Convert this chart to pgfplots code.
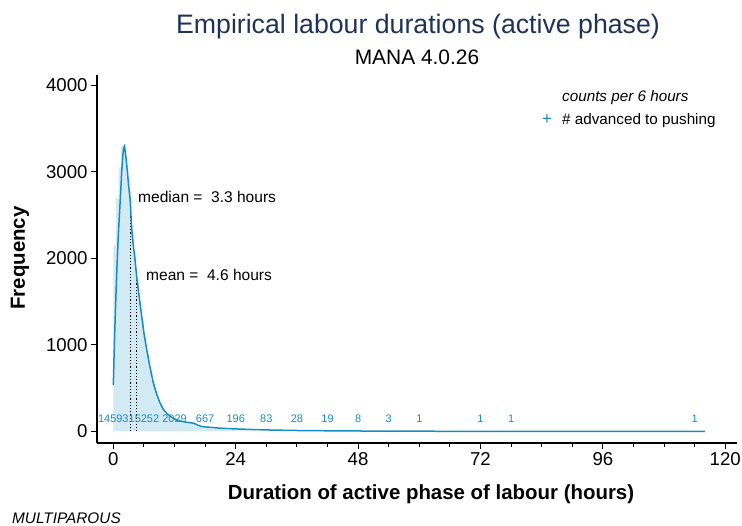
\documentclass[border=0pt]{standalone}
\usepackage{pgfplots}
\pgfplotsset{compat=1.18}
\usepackage{fontspec}
\setmainfont{Liberation Sans}
\definecolor{curveblue}{HTML}{168CC0}
\definecolor{barblue}{HTML}{D2EAF4}
\definecolor{titlenavy}{HTML}{1F3358}
\begin{document}
\begin{tikzpicture}
\useasboundingbox (0bp,0bp) rectangle (742bp,526bp);
\begin{axis}[
  at={(97bp,83bp)}, anchor=south west,
  scale only axis, width=640bp, height=368bp,
  xmin=-3.2, xmax=122.3, ymin=-133, ymax=4117,
  axis x line*=bottom, axis y line*=left,
  axis line style={line width=1.4bp, black},
  xtick={0,24,...,120}, minor xtick={6,12,18,30,36,42,54,60,66,78,84,90,102,108,114},
  ytick={0,1000,2000,3000,4000},
  tick align=outside, major tick length=6bp, minor tick length=4bp,
  every tick/.style={line width=1.1bp, black},
  minor tick style={line width=1.1bp, black},
  ticklabel style={font=\fontsize{18.7}{20}\selectfont},
  /pgf/number format/assume math mode=true,
  /pgf/number format/set thousands separator={},
  scaled y ticks=false,
  clip=false,
]
% histogram bars (0.5 hour bins, plotted at bin centres)
\addplot[ybar, bar width=2.3bp, bar shift=0pt, fill=barblue, draw=none] coordinates {
(0.25,2150) (0.75,2700) (1.25,3050) (1.75,3300) (2.25,3320) (2.75,3080) (3.25,2780)
(3.75,2380) (4.25,2060) (4.75,1760) (5.25,1500) (5.75,1280) (6.25,1080) (6.75,900)
(7.25,740) (7.75,600) (8.25,480) (8.75,380) (9.25,300) (9.75,240) (10.25,200)
(10.75,175) (11.25,155) (11.75,140) (12.25,128) (12.75,118) (13.25,108) (13.75,100)
(14.25,95) (14.75,92) (15.25,90) (15.75,84) (16.25,62) (16.75,56) (17.25,50)
(17.75,45) (18.25,40) (18.75,36) (19.25,32) (19.75,30) (20.25,27) (20.75,25)
(21.25,24) (21.75,22) (22.25,20) (22.75,19) (23.25,17) (23.75,16) (24.25,15)
(24.75,14) (25.25,13) (25.75,12) (26.25,11) (26.75,10) (27.25,9) (27.75,8)
};
% median and mean lines
\addplot[black, dotted, line width=1.2bp] coordinates {(3.3,0) (3.3,2690)};
\addplot[black, dotted, line width=1.2bp] coordinates {(4.6,0) (4.6,1760)};
% density curve
\addplot[curveblue, line width=1.5bp] coordinates {
(0,535) (0.25,1100) (0.5,1550) (0.75,1950) (0.86,2100) (0.98,2270) (1.15,2450)
(1.31,2624) (1.5,2830) (1.65,3005) (1.85,3180) (2.0,3260) (2.16,3289) (2.3,3250)
(2.5,3150) (2.75,3005) (3.0,2840) (3.3,2680) (3.6,2340) (3.9,2160) (4.2,2010)
(4.6,1780) (5.1,1540) (5.57,1328) (6.0,1140) (6.55,944) (7.2,740) (7.85,560)
(8.5,430) (9.16,329) (9.8,255) (10.48,208) (11.4,165) (12.44,133) (13.5,115)
(14.5,105) (15.2,100) (15.8,95) (16.5,75) (17.3,56) (18.2,52) (19.6,45)
(21,38) (23,32) (26.2,25) (30,18) (35,12) (40,9) (45,7) (50,5) (55,4) (60,3)
(70,2) (80,1.5) (90,1) (100,1) (110,0.5) (116,0.5)
};
% counts per 6 hours
\begin{scope}[every node/.style={text=curveblue, font=\fontsize{11}{12}\selectfont, anchor=center, inner sep=0pt}]
\node at (axis cs:0,144) {14593};
\node at (axis cs:6,144) {15252};
\node at (axis cs:12,144) {2029};
\node at (axis cs:18,144) {667};
\node at (axis cs:24,144) {196};
\node at (axis cs:30,144) {83};
\node at (axis cs:36,144) {28};
\node at (axis cs:42,144) {19};
\node at (axis cs:48,144) {8};
\node at (axis cs:54,144) {3};
\node at (axis cs:60,144) {1};
\node at (axis cs:72,144) {1};
\node at (axis cs:78,144) {1};
\node at (axis cs:114,144) {1};
\end{scope}
\end{axis}
% titles
\node[anchor=base, text=titlenavy, font=\fontsize{26.8}{30}\selectfont, inner sep=0pt] at (418bp,492.7bp) {Empirical labour durations (active phase)};
\node[anchor=base, font=\fontsize{21}{24}\selectfont, inner sep=0pt] at (417bp,461bp) {MANA 4.0.26};
% axis labels
\node[anchor=base, font=\bfseries\fontsize{20.5}{24}\selectfont, inner sep=0pt] at (431bp,27bp) {Duration of active phase of labour (hours)};
\node[rotate=90, anchor=center, font=\bfseries\fontsize{20.5}{24}\selectfont, inner sep=0pt] at (20bp,268bp) {Frequency};
\node[anchor=base west, font=\itshape\fontsize{15.4}{18}\selectfont, inner sep=0pt] at (12bp,3bp) {MULTIPAROUS};
% annotations
\node[anchor=base west, font=\fontsize{15.6}{18}\selectfont, inner sep=0pt] at (138bp,323bp) {median =\ \ 3.3 hours};
\node[anchor=base west, font=\fontsize{15.6}{18}\selectfont, inner sep=0pt] at (146bp,245bp) {mean =\ \ 4.6 hours};
% legend
\node[anchor=base west, font=\itshape\fontsize{15.3}{18}\selectfont, inner sep=0pt] at (562bp,424bp) {counts per 6 hours};
\node[anchor=center, text=curveblue, font=\fontsize{17}{18}\selectfont, inner sep=0pt] at (547bp,406bp) {+};
\node[anchor=base west, font=\fontsize{15.3}{18}\selectfont, inner sep=0pt] at (562bp,401bp) {\# advanced to pushing};
\end{tikzpicture}
\end{document}
